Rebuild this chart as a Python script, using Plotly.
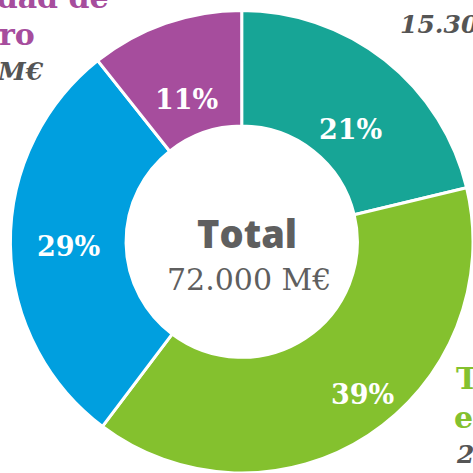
import plotly.graph_objects as go

# Data
categories = ["Cohesión social y territorial", "Transición ecológica", "Transformación digital", "Igualdad de género"]
values = [15300, 28100, 20900, 7700]
value_labels = ["15.300 M€", "28.100 M€", "20.900 M€", "7.700 M€"]
colors = ["#17a596", "#84c12e", "#009fdf", "#a64d9d"]
total_label = "72.000 M€"

W = H = 473
SERIF = "DejaVu Serif"

def px(x):
    return x / W

def py(y):
    return 1 - y / H

total = sum(values)
pct_text = [f"{round(v / total * 100)}%" for v in values]

fig = go.Figure(go.Pie(
    labels=categories,
    values=values,
    sort=False,
    direction="clockwise",
    rotation=0,
    hole=0.5,
    marker=dict(colors=colors, line=dict(color="white", width=3)),
    textinfo="none",
    hoverinfo="label+value+percent",
    domain=dict(x=[0.022, 1.0], y=[0.0, 0.978]),
    showlegend=False,
))

annotations = []

def line(text, x, y, anchor, color, size=30, italic=False, weight="bold", family=SERIF):
    annotations.append(dict(
        text=text, x=px(x), y=py(y), xref="paper", yref="paper",
        xanchor=anchor, yanchor="middle", showarrow=False,
        font=dict(family=family, size=size, color=color, weight=weight,
                  style="italic" if italic else "normal"),
    ))

# Percentage labels inside the slices
pct_pos = [(350, 129), (362, 394), (68, 246), (186, 100)]
for t, (x, y) in zip(pct_text, pct_pos):
    line(t, x, y, "center", "white", size=27)

# Teal label (top right, mostly cropped)
line("Cohesión social", 399, -60, "left", colors[0])
line("y territorial", 399, -24, "left", colors[0])
line(value_labels[0], 398, 24, "left", "#555555", size=25, italic=True)

# Green label (bottom right)
line("Transición", 454, 378, "left", colors[1])
line("ecológica", 452, 417, "left", colors[1])
line(value_labels[1], 454, 454, "left", "#555555", size=25, italic=True)

# Blue label (left, outside view)
line("Transformación", -8, 210, "right", colors[2])
line("digital", -8, 246, "right", colors[2])
line(value_labels[2], -8, 282, "right", "#555555", size=25, italic=True)

# Purple label (top left)
line("Igualdad de", 111, -2, "right", colors[3])
line("género", 37, 35, "right", colors[3])
line(value_labels[3], 46, 71, "right", "#555555", size=25, italic=True)

# Center text
line("Total", 247, 233, "center", "#5f5f5f", size=38, weight=800, family="Open Sans")
line(total_label, 249, 279, "center", "#5f5f5f", size=30, weight="normal")

fig.update_layout(
    width=W, height=H,
    margin=dict(l=0, r=0, t=0, b=0),
    paper_bgcolor="white",
    plot_bgcolor="white",
    annotations=annotations,
)

fig.write_html(
    "out.html",
    config={"displayModeBar": False},
    post_script="document.body.style.margin='0';document.body.style.overflow='hidden';",
)
